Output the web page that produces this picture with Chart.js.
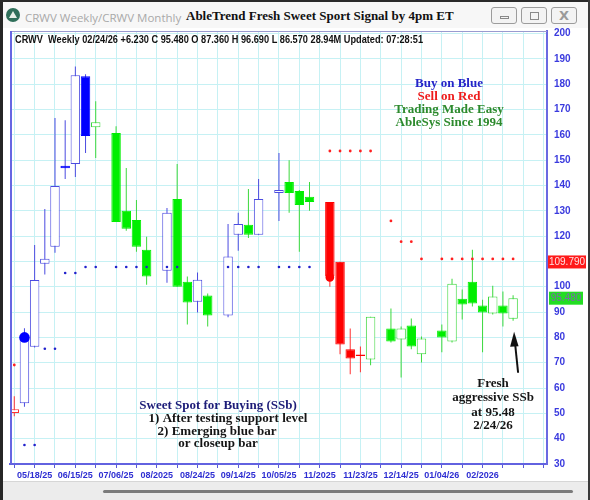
<!DOCTYPE html>
<html>
<head>
<meta charset="utf-8">
<script src="https://cdn.jsdelivr.net/npm/chart.js@4.4.1/dist/chart.umd.min.js"></script>
<style>
  body { margin: 0; width: 590px; height: 500px; overflow: hidden; background: #fff; position: relative; }
  #edgeL { position: absolute; left: 0; top: 0; width: 3px; height: 500px; background: #262626; }
  #edgeT { position: absolute; left: 0; top: 0; width: 590px; height: 2px; background: #2a2a2a; }
  #edgeR { position: absolute; right: 0; top: 0; width: 2px; height: 500px; background: #3a3a3a; }
  #titlebar { position: absolute; left: 3px; top: 2px; width: 585px; height: 26px; background: #f7f7f7; }
  #ico { position: absolute; left: 3px; top: 6px; width: 14px; height: 14px; border-radius: 50%; background: #2f6f5a; }
  #ico i { position: absolute; left: 3px; top: 3px; width: 0; height: 0; border-left: 4px solid transparent; border-right: 4px solid transparent; border-bottom: 7px solid #e8f0e8; }
  #wtitle { position: absolute; left: 22px; top: 8px; font: 11.5px "Open Sans", "Liberation Sans", Arial, sans-serif; color: #a9a9a9; white-space: nowrap; }
  #ctitle { position: absolute; left: 183px; top: 6px; font: bold 13px "Liberation Serif", "Times New Roman", serif; color: #111; white-space: nowrap; }
  .btn { position: absolute; top: 5px; width: 26px; height: 17px; border: 1px solid #9c9c9c; border-radius: 3px; background: #f3f3f3; box-sizing: border-box; }
  #bmin { left: 488px; } #bmax { left: 518px; } #bcls { left: 548px; }
  #bmin i { position: absolute; left: 8px; top: 8px; width: 9px; height: 3px; border: 1px solid #888; box-sizing: border-box; }
  #bmax i { position: absolute; left: 8px; top: 4px; width: 9px; height: 8px; border: 1px solid #888; box-sizing: border-box; }
  #bcls i { position: absolute; left: 0; top: 0; width: 24px; text-align: center; font: bold 13px "DejaVu Sans", sans-serif; line-height: 15px; color: #9a9a9a; font-style: normal; }
  #bottom { position: absolute; left: 3px; top: 481px; width: 585px; height: 19px; background: #ececec; border-top: 1px solid #d6d6d6; }
  #scroll { position: absolute; left: 100px; top: 8px; width: 470px; height: 3px; background: #7c7c7c; border-radius: 2px; }
  canvas { position: absolute; left: 0; top: 0; }
</style>
</head>
<body>
<div id="titlebar">
  <div id="ico"><i></i></div>
  <span id="wtitle">CRWV Weekly/CRWV Monthly</span>
  <span id="ctitle">AbleTrend Fresh Sweet Sport Signal by 4pm ET</span>
  <div class="btn" id="bmin"><i></i></div>
  <div class="btn" id="bmax"><i></i></div>
  <div class="btn" id="bcls"><i>X</i></div>
</div>
<div id="bottom"><div id="scroll"></div></div>
<div id="edgeL"></div><div id="edgeT"></div><div id="edgeR"></div>
<canvas id="c" width="590" height="500"></canvas>
<script>
// weekly bars, one slot per week; null = empty slot
const opens = [50.1, 54.0, 76.3, 109.1, 115.8, 147.8, 148.5, 183.1, 163.0, null,
  160.7, 130.0, 126.4, 114.6, null, 106.3, 134.7, 102.0, 94.1, 96.5,
  null, 88.6, 120.5, 124.5, 120.5, null, 137.0, 141.4, 137.8, 135.5,
  null, 133.5, 109.9, 75.3, 73.2, 71.3, null, 83.5, 79.2, 84.7,
  73.3, null, 82.7, 78.4, 95.3, 102.0, 92.6, 89.4, 92.6, 87.36];
const highs = [56.8, 83.6, 116.5, 130.7, 166.6, 165.8, 187.0, 183.9, 173.3, null,
  163.4, 146.9, 134.3, 119.7, null, 131.1, 148.5, 104.0, 105.6, 97.3,
  null, 124.8, 129.2, 138.6, 142.6, null, 152.8, 150.0, 138.2, 141.4,
  null, 133.5, 109.9, 83.5, 76.4, 88.2, null, 91.4, 84.3, 87.5,
  80.4, null, 85.1, 103.2, 98.9, 114.6, 94.9, 100.4, 98.1, 96.69];
const lows = [48.9, 52.6, 76.0, 104.8, 113.4, 142.6, 143.3, 152.8, 150.8, null,
  125.6, 122.1, 113.8, 100.8, null, 101.6, 100.0, 85.1, 89.8, 84.3,
  null, 88.0, 114.2, 119.3, 120.5, null, 126.0, 129.2, 113.8, 130.0,
  null, 100.0, 73.3, 65.4, 66.2, 69.0, null, 78.0, 64.2, 75.3,
  70.1, null, 74.1, 78.0, 87.1, 92.2, 74.1, 89.0, 84.3, 86.57];
const closes = [51.6, 79.0, 102.7, 111.1, 139.8, 146.8, 183.5, 159.5, 165.0, null,
  125.6, 122.9, 115.8, 104.0, null, 129.2, 100.0, 93.8, 102.8, 88.6,
  null, 111.9, 124.8, 120.5, 134.7, null, 138.2, 137.0, 132.3, 133.5,
  null, 104.0, 77.2, 71.7, 72.7, 88.2, null, 78.4, 83.5, 76.4,
  79.6, null, 80.0, 101.2, 93.0, 93.4, 89.8, 96.1, 89.4, 95.48];
// B = buy (blue), G = neutral (green), R = sell (red)
const trend = ['R', 'B', 'B', 'B', 'B', 'B', 'B', 'B', 'G', null,
  'G', 'G', 'G', 'G', null, 'B', 'G', 'G', 'B', 'G',
  null, 'B', 'B', 'G', 'B', null, 'B', 'G', 'G', 'G',
  null, 'R', 'R', 'R', 'R', 'G', null, 'G', 'G', 'G',
  'G', null, 'G', 'G', 'G', 'G', 'G', 'G', 'G', 'G'];
const supportDots = [null, 37.5, 37.5, 75.5, 75.5, 105.4, 105.4, 107.8, 107.8, null,
  107.8, 107.8, 107.8, 107.8, null, 107.8, 107.8, null, null, null,
  null, 107.8, 107.8, 107.8, 107.8, null, 107.8, 107.8, 107.8, 107.8,
  null, null, null, null, null, null, null, null, null, null,
  null, null, null, null, null, null, null, null, null, null];
const stopDots = [69.1, null, null, null, null, null, null, null, null, null,
  null, null, null, null, null, null, null, null, null, null,
  null, null, null, null, null, null, null, null, null, null,
  null, 153.6, 153.6, 153.6, 153.6, 153.6, null, 126.0, 117.8, 117.8,
  111.0, null, 111.0, 111.0, 111.0, 111.0, 111.0, 111.0, 111.0, 111.0];
const buyIdx = [1], buyPrice = [80.0];
const sellIdx = [31], sellPrice = [103.7];
const xLabels = ['05/18/25', '06/15/25', '07/06/25', '08/2025', '08/24/25', '09/14/25',
  '10/05/25', '11/2025', '11/23/25', '12/14/25', '01/04/26', '02/2026'];
const lastClose = 95.48, stopLevel = 109.79;
const header = 'CRWV  Weekly 02/24/26 +6.230 C 95.480 O 87.360 H 96.690 L 86.570 28.94M Updated: 07:28:51';

const FILL = { B: '#0000ff', G: '#00ee00', R: '#ff0000' };
const LINE = { B: '#4b4be0', G: '#3cd83c', R: '#ff3030' };

const bodies = [], bodyBg = [], bodyBd = [], wicks = [], wickCol = [];
opens.forEach(function(o, i) {
  if (o == null) return;
  const t = trend[i];
  const up = closes[i] > o;
  bodies.push({ x: i, y: [o, closes[i]] });
  bodyBg.push(up ? '#ffffff' : FILL[t]);
  bodyBd.push(up ? LINE[t] : FILL[t]);
  wicks.push({ x: i, y: [lows[i], highs[i]] });
  wickCol.push(LINE[t]);
});
function pts(arr) {
  const out = [];
  arr.forEach(function(v, i) { if (v != null) out.push({ x: i, y: v }); });
  return out;
}

const SERIF = '"Liberation Serif", "Times New Roman", serif';
const decor = {
  id: 'decor',
  afterDraw(chart) {
    const { ctx, chartArea: a, scales } = chart;
    const ys = scales.y, xs = scales.x;
    ctx.save();
    // frame
    ctx.strokeStyle = '#9a9ad0'; ctx.lineWidth = 1;
    ctx.beginPath(); ctx.moveTo(a.left, a.top + 0.5); ctx.lineTo(a.right, a.top + 0.5); ctx.stroke();
    ctx.strokeStyle = '#6666e2'; ctx.lineWidth = 2;
    ctx.beginPath(); ctx.moveTo(a.left + 1, a.top); ctx.lineTo(a.left + 1, a.bottom); ctx.stroke();

    ctx.textBaseline = 'middle';
    ctx.textAlign = 'left';
    ctx.fillStyle = '#111';
    ctx.font = 'bold 10px "Liberation Sans", Arial, sans-serif';
    ctx.fillText(header, a.left + 5, a.top + 9, 408);

    function txt(s, x, y, col) {
      ctx.font = 'bold 13px ' + SERIF;
      ctx.textAlign = 'center';
      ctx.fillStyle = col;
      ctx.fillText(s, x, y);
    }
    txt('Buy on Blue', 449, 84, '#2424c8');
    txt('Sell on Red', 449, 97, '#ee1c1c');
    txt('Trading Made Easy', 449, 110, '#2d8a2d');
    txt('AbleSys Since 1994', 449, 123, '#2d8a2d');

    txt('Sweet Spot for Buying (SSb)', 218, 406, '#1c1c78');
    txt('1) After testing support level', 228, 419, '#151515');
    txt('2) Emerging blue bar', 217, 432, '#151515');
    txt('or closeup bar', 218, 444, '#151515');

    txt('Fresh', 493, 384, '#151515');
    txt('aggressive SSb', 493, 398, '#151515');
    txt('at ' + lastClose.toFixed(2), 493, 413, '#151515');
    txt('2/24/26', 493, 426, '#151515');

    // arrow to the last bar
    const last = closes.length - 1;
    const tipX = xs.getPixelForValue(last) + 1;
    const tipY = ys.getPixelForValue(lows[last]) + 11;
    ctx.strokeStyle = '#111'; ctx.fillStyle = '#111'; ctx.lineWidth = 2;
    ctx.beginPath(); ctx.moveTo(tipX + 4, tipY + 41); ctx.lineTo(tipX + 1, tipY + 12); ctx.stroke();
    ctx.beginPath();
    ctx.moveTo(tipX, tipY); ctx.lineTo(tipX - 4, tipY + 15); ctx.lineTo(tipX + 4.5, tipY + 14.5);
    ctx.closePath(); ctx.fill();

    // value tags on the price axis
    function tag(v, bg, fg, x0, w) {
      const y = ys.getPixelForValue(v);
      ctx.fillStyle = bg;
      ctx.fillRect(x0, y - 6.5, w, 13);
      ctx.fillStyle = fg;
      ctx.font = '10px "Liberation Sans", Arial, sans-serif';
      ctx.textAlign = 'center';
      ctx.fillText(v.toFixed(3), x0 + w / 2, y + 0.5);
    }
    tag(stopLevel, '#ff1a1a', '#ffe0e0', a.right + 1, 38);
    tag(lastClose, '#22dd22', '#7a6aa8', a.right + 2, 34);
    ctx.restore();
  }
};

new Chart(document.getElementById('c'), {
  type: 'bar',
  data: {
    datasets: [
      { type: 'line', data: pts(supportDots), showLine: false, pointRadius: 1.3, pointBackgroundColor: '#2121cc', pointBorderWidth: 0, order: 0 },
      { type: 'line', data: pts(stopDots), showLine: false, pointRadius: 1.4, pointBackgroundColor: '#ff2020', pointBorderWidth: 0, order: 0 },
      { type: 'line', data: buyIdx.map((v, k) => ({ x: v, y: buyPrice[k] })), showLine: false, pointRadius: 5.3, pointBackgroundColor: '#0000ff', pointBorderWidth: 0, order: 0 },
      { type: 'line', data: sellIdx.map((v, k) => ({ x: v, y: sellPrice[k] })), showLine: false, pointRadius: 4.3, pointBackgroundColor: '#ff0000', pointBorderWidth: 0, order: 0 },
      { data: bodies, backgroundColor: bodyBg, borderColor: bodyBd, borderWidth: 1, borderSkipped: false,
        grouped: false, barPercentage: 0.93, categoryPercentage: 1, order: 1 },
      { data: wicks, backgroundColor: wickCol, borderWidth: 0, barThickness: 1, inflateAmount: 0, grouped: false, order: 2 }
    ]
  },
  options: {
    responsive: false,
    animation: false,
    devicePixelRatio: 1,
    events: [],
    layout: { padding: { left: 10, top: 31, right: 0, bottom: 12 } },
    plugins: { legend: { display: false }, tooltip: { enabled: false } },
    scales: {
      x: {
        type: 'linear', min: -0.42, max: 52.33, offset: false,
        afterBuildTicks: function(s) {
          const t = [];
          for (let i = 0; i <= 52; i += 2) t.push({ value: i });
          s.ticks = t;
        },
        afterFit: function(s) { s.height = 24; },
        grid: { color: '#c6f1f4', offset: false, tickColor: '#5a5ad8', tickLength: 4 },
        border: { color: '#6262e0', width: 2 },
        ticks: {
          autoSkip: false, maxRotation: 0, padding: 2, color: '#2e2ed2',
          font: { family: '"Liberation Sans", Arial, sans-serif', size: 9, weight: 'bold' },
          callback: function(v) {
            return (v - 2) % 4 === 0 ? (xLabels[(v - 2) / 4] || '') : '';
          }
        }
      },
      y: {
        type: 'linear', position: 'right', min: 30, max: 201,
        afterFit: function(s) { s.width = 43; },
        grid: { color: '#c6f1f4', drawTicks: false },
        border: { color: '#6a6ae2', width: 2 },
        ticks: {
          stepSize: 10, includeBounds: false, padding: 7, color: '#3a3ade',
          font: { family: '"Liberation Sans", Arial, sans-serif', size: 10, weight: 'bold' }
        }
      }
    }
  },
  plugins: [decor]
});
</script>
</body>
</html>
